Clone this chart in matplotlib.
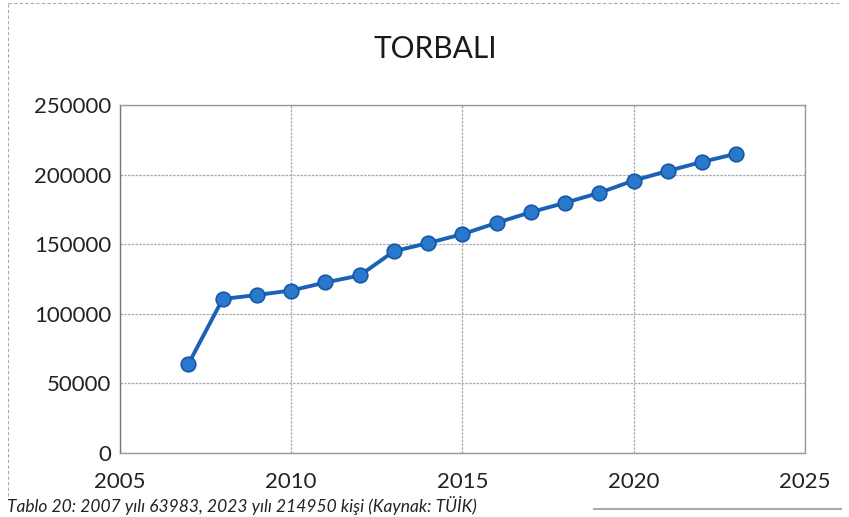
import matplotlib.pyplot as plt
from matplotlib.lines import Line2D

years = [2007, 2008, 2009, 2010, 2011, 2012, 2013, 2014, 2015,
         2016, 2017, 2018, 2019, 2020, 2021, 2022, 2023]
population = [63983, 110600, 113500, 116700, 122500, 127500, 144900, 150800, 157200,
              165300, 173000, 179700, 186900, 195700, 202600, 209100, 214950]
x_ticks = [2005, 2010, 2015, 2020, 2025]
y_ticks = [0, 50000, 100000, 150000, 200000, 250000]
title = 'TORBALI'
caption = 'Tablo 20: 2007 yılı 63983, 2023 yılı 214950 kişi (Kaynak: TÜİK)'

plt.rcParams['font.family'] = ['Lato', 'DejaVu Sans']

fig = plt.figure(figsize=(8.49, 5.17), dpi=100)
ax = fig.add_axes([0.1413, 0.1238, 0.8067, 0.6732])

ax.plot(years, population, color='#1a62b8', lw=2.8, marker='o', markersize=10.5,
        markerfacecolor='#2a78cc', markeredgecolor='#1558a8', markeredgewidth=1.2,
        zorder=3)

ax.set_xlim(2005, 2025)
ax.set_ylim(0, 250000)
ax.set_xticks(x_ticks)
ax.set_yticks(y_ticks)
ax.set_xticklabels([str(t) for t in x_ticks], fontsize=16, color='#222222')
ax.set_yticklabels([str(t) for t in y_ticks], fontsize=16, color='#222222')
ax.tick_params(axis='y', length=0, pad=6)
ax.tick_params(axis='x', length=0, pad=14)
ax.grid(True, color='#a8a8a8', lw=0.9, ls=(0, (2, 1)))
for s in ax.spines.values():
    s.set_color('#999999')
    s.set_linewidth(1.0)
ax.spines['left'].set_color('#777777')

fig.text(0.513, 0.905, title, ha='center', va='center', fontsize=21.5, color='#1a1a1a')

# caption of the scanned page below the chart
fig.text(0.008, 0.003, caption, ha='left', va='bottom', fontsize=12.5, style='italic',
         color='#222222')

# faint border of the scanned chart box
fig.add_artist(Line2D([0.01, 0.01], [0.04, 0.995], transform=fig.transFigure,
                      color='#aaaaaa', lw=0.8, ls=(0, (3, 2))))
fig.add_artist(Line2D([0.01, 0.99], [0.995, 0.995], transform=fig.transFigure,
                      color='#aaaaaa', lw=0.8, ls=(0, (3, 2))))
fig.add_artist(Line2D([0.7, 0.99], [0.015, 0.015], transform=fig.transFigure,
                      color='#aaaaaa', lw=1.5))

fig.savefig('out.png', dpi=100)
